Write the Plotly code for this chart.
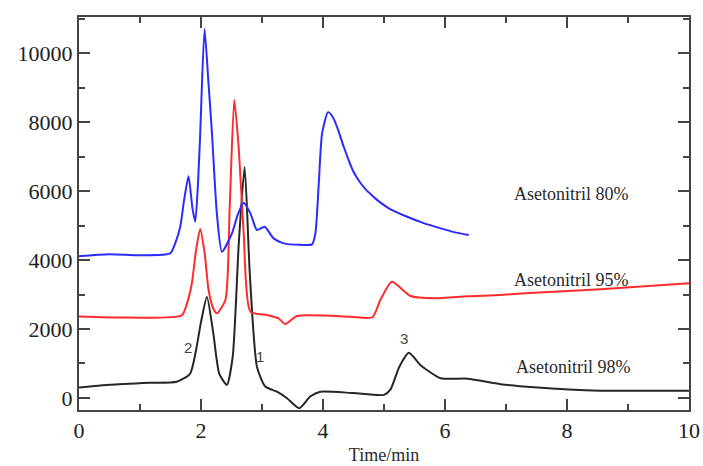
import plotly.graph_objects as go

# Asetonitril 98% (black)
t98 = [0.0, 0.5, 1.17, 1.6, 1.82, 1.92, 2.0, 2.097, 2.2, 2.3, 2.425, 2.52, 2.62, 2.715, 2.8, 2.918, 3.054,
       3.246, 3.41, 3.612, 3.79, 3.957, 4.5, 5.0, 5.107, 5.25, 5.408, 5.6, 5.93, 6.37, 6.91, 7.46, 8.55, 10.0]
v98 = [300, 380, 440, 470, 700, 1400, 2200, 2930, 1900, 700, 380, 1200, 4500, 6700, 3600, 900, 330,
       180, -10, -300, 40, 180, 140, 90, 250, 900, 1310, 950, 570, 560, 400, 310, 212, 212]

# Asetonitril 95% (red)
t95 = [0.0, 0.8, 1.686, 1.78, 1.85, 1.92, 1.987, 2.06, 2.124, 2.2, 2.26, 2.4, 2.47, 2.545, 2.62, 2.70, 2.81,
       3.08, 3.27, 3.38, 3.575, 4.45, 4.81, 4.94, 5.13, 5.435, 5.82, 6.37, 6.91, 7.46, 8.55, 10.0]
v95 = [2360, 2330, 2400, 2800, 3324, 4300, 4900, 4200, 3130, 2600, 2455, 2840, 5500, 8650, 7200, 4773, 2502,
       2406, 2310, 2145, 2377, 2357, 2340, 2840, 3370, 2956, 2890, 2950, 2985, 3053, 3150, 3330]

# Asetonitril 80% (blue)
t80 = [0.0, 0.5, 1.0, 1.494, 1.58, 1.66, 1.72, 1.795, 1.86, 1.905, 1.95, 1.987, 2.058, 2.12, 2.18, 2.26,
       2.343, 2.507, 2.6, 2.698, 2.81, 2.918, 3.043, 3.19, 3.355, 3.63, 3.82, 3.875, 3.93, 3.985, 4.083,
       4.16, 4.23, 4.34, 4.42, 4.5, 4.6, 4.7, 4.8, 4.89, 5.1, 5.38, 5.65, 5.93, 6.15, 6.39]
v80 = [4110, 4170, 4140, 4193, 4500, 4966, 5700, 6430, 5500, 5110, 6200, 7672, 10700, 9200, 7672, 5353,
       4241, 4773, 5300, 5661, 5353, 4870, 4966, 4628, 4483, 4440, 4455, 4773, 6200, 7672, 8290,
       8150, 7865, 7285, 6900, 6560, 6270, 6050, 5880, 5739, 5480, 5255, 5070, 4918, 4810, 4725]

series = [
    ("Asetonitril 98%", t98, v98, "#262626"),
    ("Asetonitril 95%", t95, v95, "#ff2b2b"),
    ("Asetonitril 80%", t80, v80, "#2b2bff"),
]

# Curve labels
lab_text = ["Asetonitril 80%", "Asetonitril 95%", "Asetonitril 98%"]
lab_x = [8.07, 8.07, 8.1]
lab_y = [5913, 3420, 900]

# Peak numbers
peak_text = ["2", "1", "3"]
peak_x = [1.79, 2.967, 5.33]
peak_y = [1450, 1190, 1720]

# Tick labels
x_ticks = [0, 2, 4, 6, 8, 10]
y_ticks = [0, 2000, 4000, 6000, 8000, 10000]
y_ticktext = ["0", "2000", "4000", "6000", "8000", "10000"]

fig = go.Figure()
for name, t, v, c in series:
    fig.add_trace(go.Scatter(x=t, y=v, mode="lines", name=name,
                             line=dict(color=c, width=2, shape="spline", smoothing=0.6)))

for txt, x, y in zip(lab_text, lab_x, lab_y):
    fig.add_annotation(x=x, y=y, text=txt, showarrow=False,
                       font=dict(family="Liberation Serif", size=18, color="#2a2a2a"))
for txt, x, y in zip(peak_text, peak_x, peak_y):
    fig.add_annotation(x=x, y=y, text=txt, showarrow=False,
                       font=dict(family="Liberation Sans", size=15, color="#444444"))

axis_common = dict(showline=True, linecolor="#444444", linewidth=2, mirror="ticks",
                   ticks="inside", ticklen=11, tickwidth=2, tickcolor="#444444",
                   showgrid=False, zeroline=False, automargin=False,
                   tickfont=dict(family="Liberation Serif", size=22, color="#222222"))

fig.update_xaxes(range=[0, 10], tickvals=x_ticks,
                 minor=dict(dtick=1, ticks="inside", ticklen=6, tickwidth=2, tickcolor="#444444"),
                 title=dict(text="Time/min", font=dict(family="Liberation Serif", size=18, color="#2a2a2a"),
                            standoff=6),
                 **axis_common)
fig.update_yaxes(range=[-350, 11050], tickvals=y_ticks, ticktext=y_ticktext,
                 minor=dict(dtick=1000, tick0=0, ticks="inside", ticklen=6, tickwidth=2, tickcolor="#444444"),
                 **axis_common)

fig.update_layout(width=703, height=466, margin=dict(l=79, r=14, t=17, b=56),
                  plot_bgcolor="white", paper_bgcolor="white", showlegend=False)

fig.write_html("out.html", config={"displayModeBar": False},
               post_script="document.body.style.margin='0px';")
